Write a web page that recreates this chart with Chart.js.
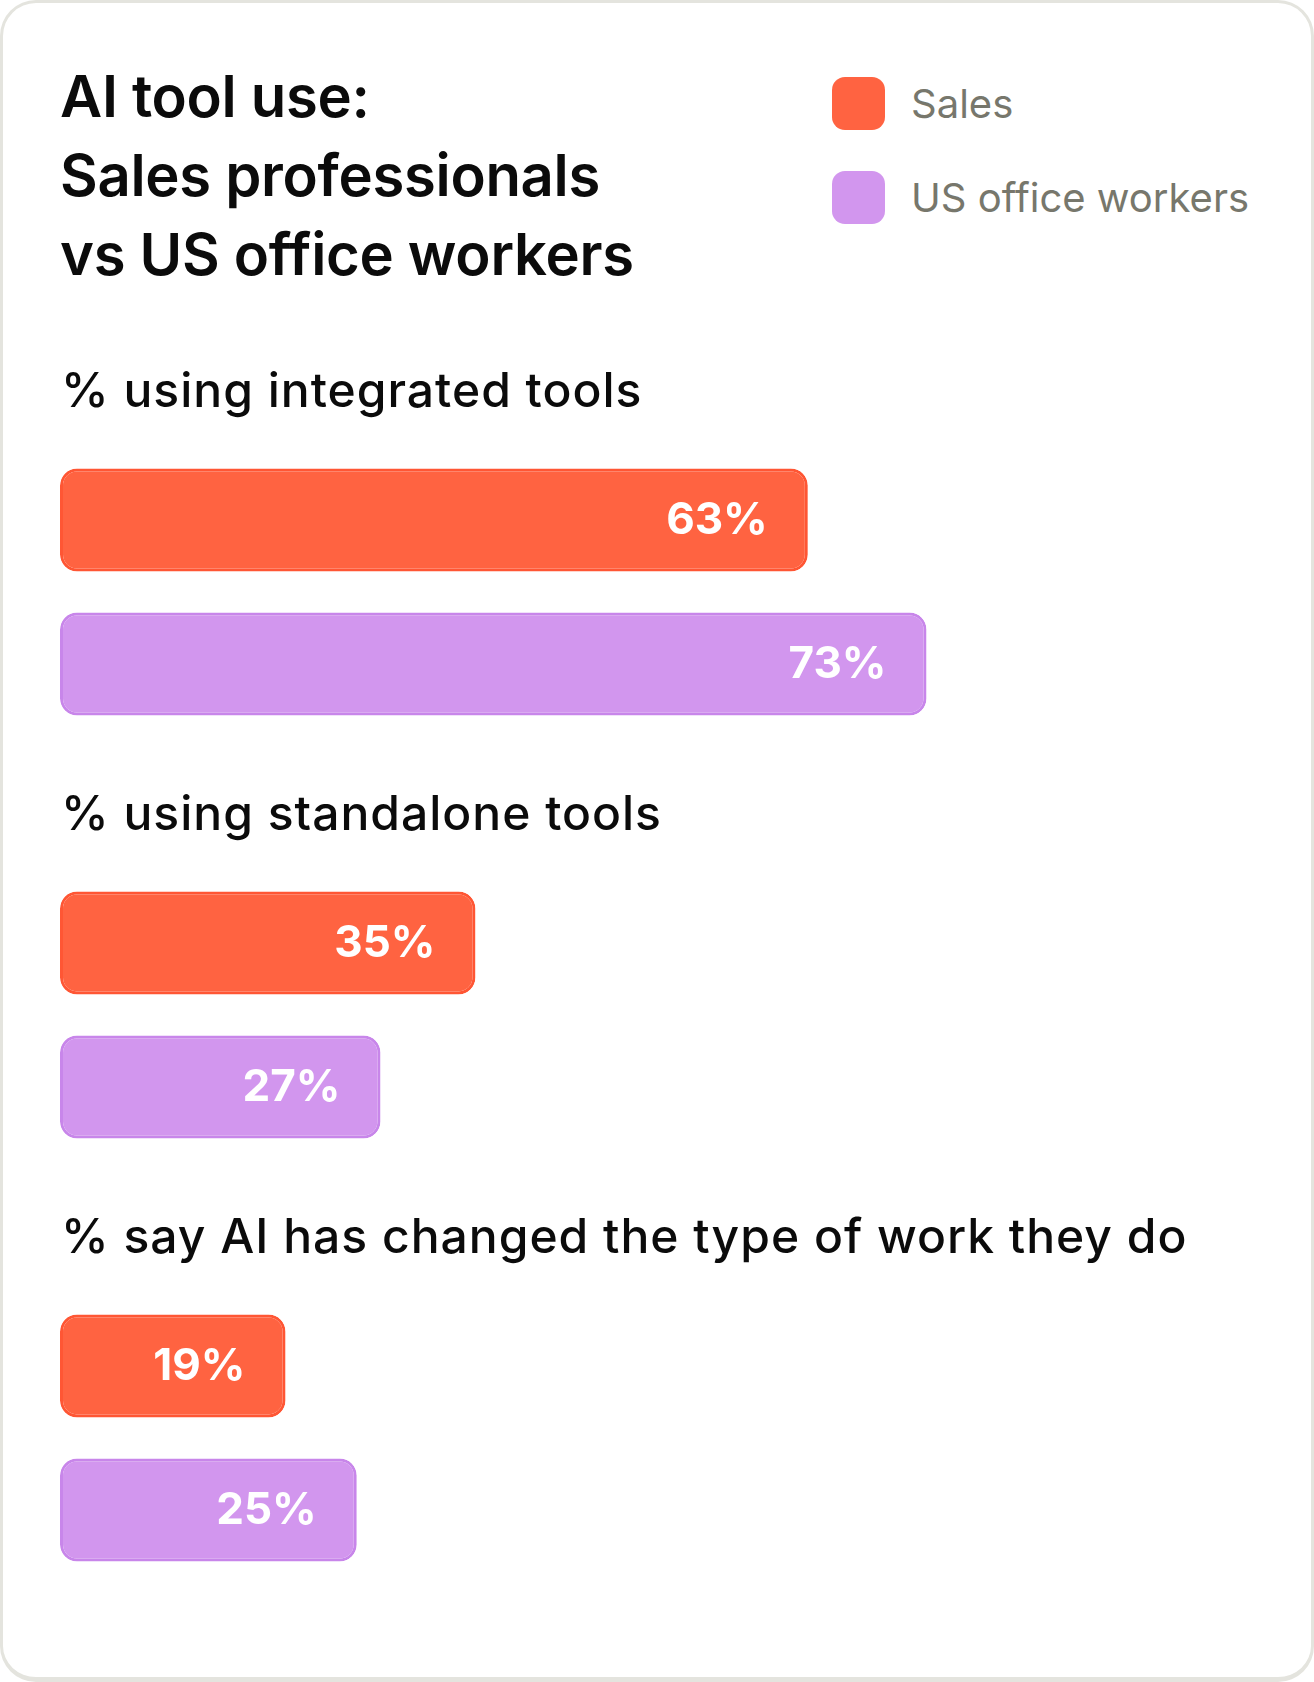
<!DOCTYPE html>
<html>
<head>
<meta charset="utf-8">
<script src="https://cdn.jsdelivr.net/npm/chart.js@4.4.1/dist/chart.umd.min.js"></script>
<style>
  html, body { margin: 0; padding: 0; background: #fff; }
  body { width: 1314px; height: 1682px; position: relative; overflow: hidden; font-family: Inter, "Noto Sans", sans-serif; }
  .card { position: absolute; left: 0; top: 0; width: 1314px; height: 1682px; box-sizing: border-box;
          border: 3px solid #e4e4de; border-bottom-width: 5px; border-radius: 36px; }
  .title { position: absolute; left: 60px; top: 57px; font-size: 58px; line-height: 79px; font-weight: 600;
           color: #0b0b0b; letter-spacing: -0.3px; }
  .legend { position: absolute; left: 832px; top: 77px; }
  .legend .item { display: flex; align-items: center; height: 53px; margin-bottom: 41px; }
  .legend .sw { width: 53px; height: 53px; border-radius: 13px; margin-right: 26px; }
  .legend .lbl { font-size: 40px; color: #77776c; }
  #chart { position: absolute; left: 0; top: 0; }
</style>
</head>
<body>
<div class="card"></div>
<div class="title">AI tool use:<br>Sales professionals<br>vs US office workers</div>
<div class="legend">
  <div class="item"><div class="sw" style="background:#ff6341"></div><div class="lbl">Sales</div></div>
  <div class="item"><div class="sw" style="background:#d296ee"></div><div class="lbl">US office workers</div></div>
</div>
<canvas id="chart" width="1314" height="1682"></canvas>
<script>
// データ
const questions = ["% using integrated tools", "% using standalone tools", "% say AI has changed the type of work they do"];
const salesValues = [63, 35, 19];
const officeValues = [73, 27, 25];

const ctx = document.getElementById("chart").getContext("2d");

// 各グループの見出し（バーの上に描く）
const headerPlugin = {
    id: "headers",
    afterDatasetsDraw(chart) {
        const c = chart.ctx;
        const y = chart.scales.y;
        c.save();
        c.font = "500 48px Inter, 'Noto Sans', sans-serif";
        c.letterSpacing = "1px";
        c.fillStyle = "#0b0b0b";
        c.textAlign = "left";
        c.textBaseline = "middle";
        questions.forEach((q, i) => {
            c.fillText(q, chart.chartArea.left + 1, y.getPixelForValue(i) - 199);
        });
        c.restore();
    }
};

// バーの中の数値
const valuePlugin = {
    id: "values",
    afterDatasetsDraw(chart) {
        const c = chart.ctx;
        c.save();
        c.font = "700 44px Inter, 'Noto Sans', sans-serif";
        c.fillStyle = "#ffffff";
        c.textAlign = "right";
        c.textBaseline = "middle";
        chart.data.datasets.forEach((ds, di) => {
            chart.getDatasetMeta(di).data.forEach((bar, i) => {
                c.fillText(ds.data[i] + "%", bar.x - 40, bar.y + 1);
            });
        });
        c.restore();
    }
};

new Chart(ctx, {
    type: "bar",
    data: {
        labels: questions,
        datasets: [
            {
                label: "Sales",
                data: salesValues,
                backgroundColor: "#ff6341",
                borderColor: "#ff5634",
                borderWidth: 3,
                borderSkipped: false,
                borderRadius: 17
            },
            {
                label: "US office workers",
                data: officeValues,
                backgroundColor: "#d296ee",
                borderColor: "#c886ea",
                borderWidth: 3,
                borderSkipped: false,
                borderRadius: 17
            }
        ]
    },
    options: {
        indexAxis: "y",
        responsive: false,
        animation: false,
        devicePixelRatio: 1,
        categoryPercentage: 0.681,
        barPercentage: 0.715,
        layout: { padding: { left: 60, right: 67, top: 380.5, bottom: 32.5 } },
        scales: {
            x: { display: false, min: 0, max: 100 },
            y: { display: false }
        },
        plugins: {
            legend: { display: false },
            tooltip: { enabled: false }
        }
    },
    plugins: [headerPlugin, valuePlugin]
});
</script>
</body>
</html>
